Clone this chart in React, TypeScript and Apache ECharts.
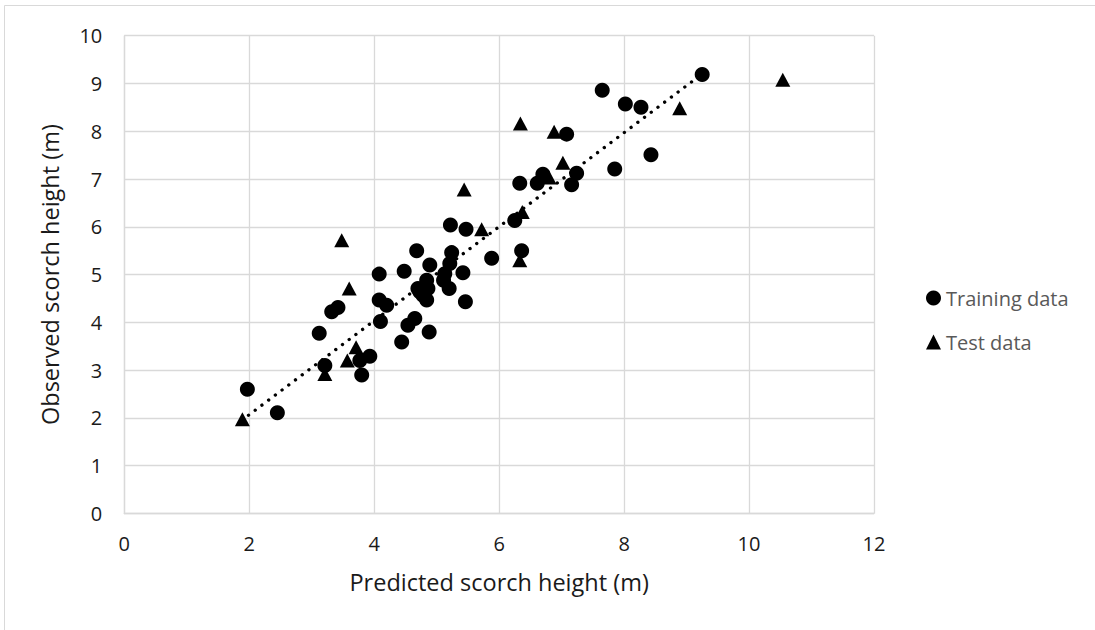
import React, { useEffect, useRef } from "react";
import * as echarts from "echarts";

const xTicks = { min: 0, max: 12, interval: 2 };
const yTicks = { min: 0, max: 10, interval: 1 };

const trainingData: [number, number][] = [
  [1.97, 2.6], [2.45, 2.11], [3.12, 3.77], [3.32, 4.22], [3.42, 4.31],
  [3.21, 3.1], [3.93, 3.29], [3.77, 3.2], [3.8, 2.9], [4.08, 5.01],
  [4.08, 4.47], [4.2, 4.36], [4.1, 4.02], [4.44, 3.59], [4.54, 3.94],
  [4.65, 4.08], [4.88, 3.8], [4.48, 5.07], [4.68, 5.5], [4.89, 5.2],
  [4.84, 4.88], [4.7, 4.71], [4.86, 4.71], [4.78, 4.57], [4.84, 4.47],
  [4.73, 4.64], [5.13, 5.02], [5.11, 4.88], [5.21, 5.23], [5.2, 4.71],
  [5.24, 5.46], [5.42, 5.04], [5.46, 4.43], [5.88, 5.34], [5.22, 6.04],
  [5.47, 5.95], [6.25, 6.13], [6.36, 5.5], [6.33, 6.91], [6.61, 6.91],
  [6.7, 7.1], [7.16, 6.88], [7.24, 7.12], [7.08, 7.94], [7.65, 8.86],
  [8.02, 8.57], [8.27, 8.5], [7.85, 7.21], [8.43, 7.51], [9.25, 9.19],
];

const testData: [number, number][] = [
  [1.89, 1.97], [3.21, 2.92], [3.57, 3.2], [3.71, 3.48], [3.6, 4.71],
  [3.48, 5.72], [5.44, 6.78], [5.72, 5.95], [6.33, 5.3], [6.37, 6.31],
  [6.34, 8.16], [6.88, 7.99], [7.02, 7.34], [6.8, 7.03], [8.89, 8.48],
  [10.54, 9.08],
];

const trendLine: [number, number][] = [[1.88, 1.95], [9.25, 9.2]];

const xTitle = "Predicted scorch height (m)";
const yTitle = "Observed scorch height (m)";
const seriesNames = ["Training data", "Test data"];

const FONT = "Open Sans";

export default function App() {
  const ref = useRef<HTMLDivElement>(null);
  useEffect(() => {
    document.body.style.margin = "0";
    if (!ref.current) return;
    const chart = echarts.init(ref.current, undefined, { renderer: "svg" });
    const gridColor = "#d9d9d9";
    chart.setOption({
      animation: false,
      backgroundColor: "#fff",
      textStyle: { fontFamily: FONT },
      graphic: [
        {
          type: "rect",
          silent: true,
          z: -10,
          shape: { x: 4.5, y: 5.5, width: 1200, height: 800 },
          style: { fill: "none", stroke: gridColor, lineWidth: 1 },
        },
      ],
      grid: { left: 124.3, right: 221, top: 35.7, bottom: 116.5, containLabel: false },
      xAxis: {
        type: "value",
        ...xTicks,
        name: xTitle,
        nameLocation: "middle",
        nameGap: 56,
        nameTextStyle: { fontFamily: FONT, fontSize: 23.5, color: "#1a1a1a" },
        axisLine: { show: true, lineStyle: { color: gridColor, width: 1.3 } },
        axisTick: { show: false },
        axisLabel: { margin: 20, fontFamily: FONT, fontSize: 20, color: "#1a1a1a" },
        splitLine: { show: true, lineStyle: { color: gridColor, width: 1.3 } },
      },
      yAxis: {
        type: "value",
        ...yTicks,
        name: yTitle,
        nameLocation: "middle",
        nameGap: 62,
        nameTextStyle: { fontFamily: FONT, fontSize: 23.5, color: "#1a1a1a" },
        axisLine: { show: true, lineStyle: { color: gridColor, width: 1.3 } },
        axisTick: { show: false },
        axisLabel: { margin: 22, fontFamily: FONT, fontSize: 20, color: "#1a1a1a" },
        splitLine: { show: true, lineStyle: { color: gridColor, width: 1.3 } },
      },
      legend: {
        data: seriesNames,
        orient: "vertical",
        left: 921,
        top: 283,
        itemGap: 24,
        itemWidth: 15,
        itemHeight: 15,
        textStyle: { fontFamily: FONT, fontSize: 20, color: "#595959" },
      },
      series: [
        {
          name: "trend",
          type: "line",
          data: trendLine,
          symbol: "none",
          silent: true,
          z: 1,
          lineStyle: { color: "#000", width: 3.3, type: [0.1, 8.3], cap: "round" },
        },
        {
          name: seriesNames[0],
          type: "scatter",
          data: trainingData,
          symbol: "circle",
          symbolSize: 15,
          itemStyle: { color: "#000", opacity: 1 },
          z: 3,
        },
        {
          name: seriesNames[1],
          type: "scatter",
          data: testData,
          symbol: "triangle",
          symbolSize: [15, 14],
          itemStyle: { color: "#000", opacity: 1 },
          z: 3,
        },
      ],
    });
    return () => chart.dispose();
  }, []);
  return <div ref={ref} style={{ width: 1095, height: 630 }} />;
}
